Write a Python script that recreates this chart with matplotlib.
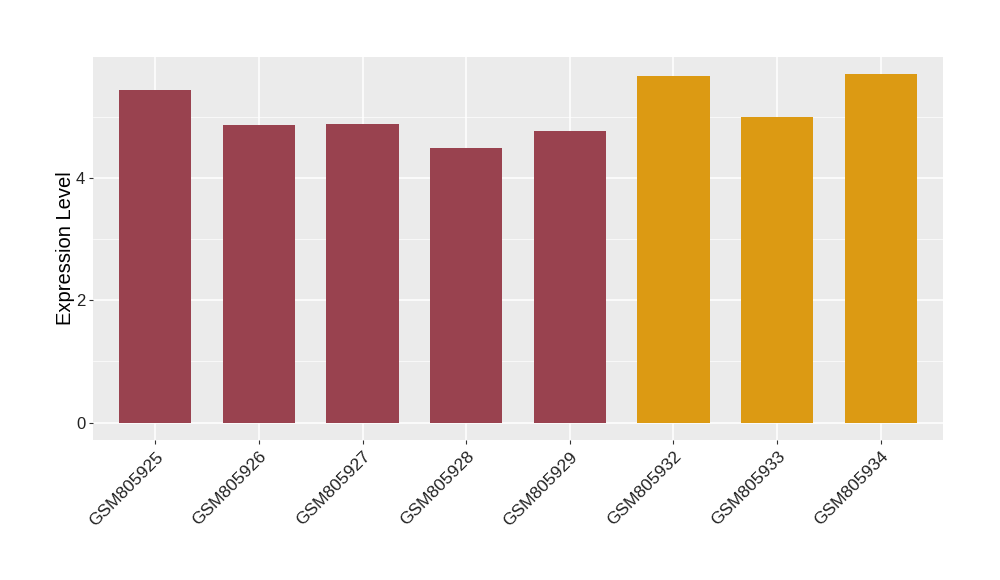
import matplotlib
matplotlib.use("Agg")
import matplotlib.pyplot as plt

samples = ["GSM805925", "GSM805926", "GSM805927", "GSM805928", "GSM805929",
           "GSM805932", "GSM805933", "GSM805934"]
values = [5.44, 4.87, 4.89, 4.49, 4.77, 5.67, 5.01, 5.70]
groups = ["A", "A", "A", "A", "A", "B", "B", "B"]
group_colors = {"A": "#99424F", "B": "#DC9A13"}
yticks = [0, 2, 4]

plt.rcParams['font.family'] = ['Liberation Sans', 'DejaVu Sans']
fig = plt.figure(figsize=(10, 5.8), dpi=100)
ax = fig.add_axes([0.093, 0.2414, 0.85, 0.6603])
ax.set_facecolor("#EBEBEB")

x = list(range(len(samples)))
ax.bar(x, values, width=0.7, color=[group_colors[g] for g in groups], zorder=3)

ymax = max(values)
ax.set_ylim(-0.05 * ymax, ymax * 1.05)
ax.set_xlim(-0.6, len(samples) - 0.4)

ax.set_yticks(yticks)
ax.set_yticks([1, 3, 5], minor=True)
ax.set_xticks(x)
ax.set_xticklabels(samples, rotation=45, ha="right", rotation_mode="anchor", fontsize=12.5)
ax.tick_params(axis="y", labelsize=12, length=3, pad=2.5, color="#333333", labelcolor="#222222")
ax.tick_params(axis="y", which="minor", length=0)
ax.tick_params(axis="x", length=3, color="#333333", labelcolor="#222222")

ax.grid(True, which="major", color="white", linewidth=1.1, zorder=0)
ax.grid(True, which="minor", axis="y", color="white", linewidth=0.5, zorder=0)
for s in ax.spines.values():
    s.set_visible(False)

ax.set_ylabel("Expression Level", fontsize=14.5, labelpad=0.5)

fig.savefig("out.png", dpi=100)
